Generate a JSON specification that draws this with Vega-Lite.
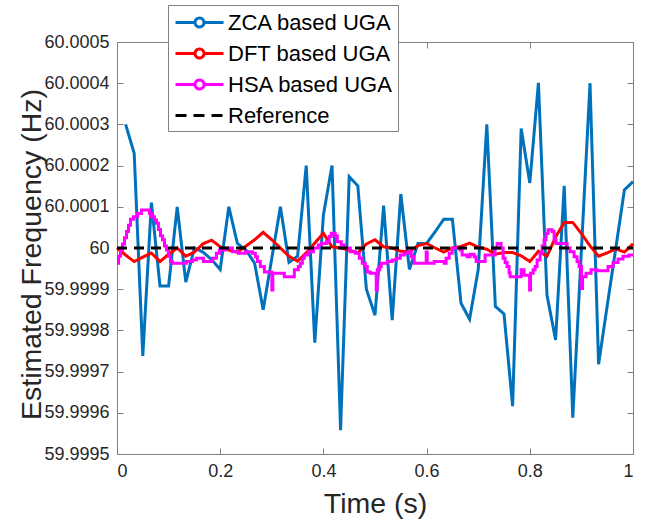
{
  "$schema": "https://vega.github.io/schema/vega-lite/v6.json",
  "width": 516,
  "height": 412,
  "autosize": {"type": "none"},
  "padding": {"left": 117, "top": 42, "right": 13, "bottom": 68},
  "background": "white",
  "config": {
    "view": {"stroke": null},
    "axis": {
      "labelFont": "Liberation Sans",
      "labelFontSize": 18,
      "labelColor": "#262626",
      "titleFont": "Liberation Sans",
      "titleFontSize": 28.5,
      "titleFontWeight": "normal",
      "titleColor": "#262626",
      "domainColor": "#808080",
      "tickColor": "#808080",
      "domainWidth": 1,
      "tickWidth": 1,
      "tickSize": -6,
      "grid": false
    }
  },
  "data": {
    "values": [
      {"series": "ZCA based UGA", "time": 0.0167, "freq": 60.0003},
      {"series": "ZCA based UGA", "time": 0.0333, "freq": 60.00023},
      {"series": "ZCA based UGA", "time": 0.05, "freq": 59.999738},
      {"series": "ZCA based UGA", "time": 0.0667, "freq": 60.00011},
      {"series": "ZCA based UGA", "time": 0.0833, "freq": 59.999908},
      {"series": "ZCA based UGA", "time": 0.1, "freq": 59.999908},
      {"series": "ZCA based UGA", "time": 0.1167, "freq": 60.0001},
      {"series": "ZCA based UGA", "time": 0.1333, "freq": 59.999917},
      {"series": "ZCA based UGA", "time": 0.15, "freq": 60.0},
      {"series": "ZCA based UGA", "time": 0.1667, "freq": 59.99999},
      {"series": "ZCA based UGA", "time": 0.1833, "freq": 59.999972},
      {"series": "ZCA based UGA", "time": 0.2, "freq": 59.999948},
      {"series": "ZCA based UGA", "time": 0.2167, "freq": 60.0001},
      {"series": "ZCA based UGA", "time": 0.2333, "freq": 60.000011},
      {"series": "ZCA based UGA", "time": 0.25, "freq": 59.999995},
      {"series": "ZCA based UGA", "time": 0.2667, "freq": 59.999963},
      {"series": "ZCA based UGA", "time": 0.2833, "freq": 59.99985},
      {"series": "ZCA based UGA", "time": 0.3, "freq": 59.999975},
      {"series": "ZCA based UGA", "time": 0.3167, "freq": 60.0001},
      {"series": "ZCA based UGA", "time": 0.3333, "freq": 59.999965},
      {"series": "ZCA based UGA", "time": 0.35, "freq": 59.99998},
      {"series": "ZCA based UGA", "time": 0.3667, "freq": 60.0002},
      {"series": "ZCA based UGA", "time": 0.3833, "freq": 59.99977},
      {"series": "ZCA based UGA", "time": 0.4, "freq": 60.00008},
      {"series": "ZCA based UGA", "time": 0.4167, "freq": 60.0002},
      {"series": "ZCA based UGA", "time": 0.4333, "freq": 59.999558},
      {"series": "ZCA based UGA", "time": 0.45, "freq": 60.000173},
      {"series": "ZCA based UGA", "time": 0.4667, "freq": 60.000151},
      {"series": "ZCA based UGA", "time": 0.4833, "freq": 59.9999},
      {"series": "ZCA based UGA", "time": 0.5, "freq": 59.999837},
      {"series": "ZCA based UGA", "time": 0.5167, "freq": 60.000103},
      {"series": "ZCA based UGA", "time": 0.5333, "freq": 59.999825},
      {"series": "ZCA based UGA", "time": 0.55, "freq": 60.000131},
      {"series": "ZCA based UGA", "time": 0.5667, "freq": 59.999948},
      {"series": "ZCA based UGA", "time": 0.5833, "freq": 60.000011},
      {"series": "ZCA based UGA", "time": 0.6, "freq": 60.000011},
      {"series": "ZCA based UGA", "time": 0.6167, "freq": 60.00004},
      {"series": "ZCA based UGA", "time": 0.6333, "freq": 60.00007},
      {"series": "ZCA based UGA", "time": 0.65, "freq": 60.00007},
      {"series": "ZCA based UGA", "time": 0.6667, "freq": 59.999866},
      {"series": "ZCA based UGA", "time": 0.6833, "freq": 59.999827},
      {"series": "ZCA based UGA", "time": 0.7, "freq": 59.999947},
      {"series": "ZCA based UGA", "time": 0.7167, "freq": 60.0003},
      {"series": "ZCA based UGA", "time": 0.7333, "freq": 59.999858},
      {"series": "ZCA based UGA", "time": 0.75, "freq": 59.99984},
      {"series": "ZCA based UGA", "time": 0.7667, "freq": 59.999616},
      {"series": "ZCA based UGA", "time": 0.7833, "freq": 60.00029},
      {"series": "ZCA based UGA", "time": 0.8, "freq": 60.000158},
      {"series": "ZCA based UGA", "time": 0.8167, "freq": 60.000401},
      {"series": "ZCA based UGA", "time": 0.8333, "freq": 59.999886},
      {"series": "ZCA based UGA", "time": 0.85, "freq": 59.999777},
      {"series": "ZCA based UGA", "time": 0.8667, "freq": 60.000151},
      {"series": "ZCA based UGA", "time": 0.8833, "freq": 59.999588},
      {"series": "ZCA based UGA", "time": 0.9, "freq": 59.999995},
      {"series": "ZCA based UGA", "time": 0.9167, "freq": 60.0004},
      {"series": "ZCA based UGA", "time": 0.9333, "freq": 59.999718},
      {"series": "ZCA based UGA", "time": 0.95, "freq": 59.99986},
      {"series": "ZCA based UGA", "time": 0.9667, "freq": 60.0},
      {"series": "ZCA based UGA", "time": 0.9833, "freq": 60.000141},
      {"series": "ZCA based UGA", "time": 1.0, "freq": 60.000161},

      {"series": "DFT based UGA", "time": 0.0, "freq": 60.0},
      {"series": "DFT based UGA", "time": 0.0167, "freq": 59.999983},
      {"series": "DFT based UGA", "time": 0.0333, "freq": 59.999967},
      {"series": "DFT based UGA", "time": 0.05, "freq": 59.999978},
      {"series": "DFT based UGA", "time": 0.0667, "freq": 59.999988},
      {"series": "DFT based UGA", "time": 0.0833, "freq": 59.999967},
      {"series": "DFT based UGA", "time": 0.1, "freq": 59.999985},
      {"series": "DFT based UGA", "time": 0.1167, "freq": 60.0},
      {"series": "DFT based UGA", "time": 0.1333, "freq": 59.99998},
      {"series": "DFT based UGA", "time": 0.15, "freq": 59.99999},
      {"series": "DFT based UGA", "time": 0.1667, "freq": 60.00001},
      {"series": "DFT based UGA", "time": 0.1833, "freq": 60.000019},
      {"series": "DFT based UGA", "time": 0.2, "freq": 60.000003},
      {"series": "DFT based UGA", "time": 0.2167, "freq": 59.999995},
      {"series": "DFT based UGA", "time": 0.2333, "freq": 59.99999},
      {"series": "DFT based UGA", "time": 0.25, "freq": 60.000005},
      {"series": "DFT based UGA", "time": 0.2667, "freq": 60.00002},
      {"series": "DFT based UGA", "time": 0.2833, "freq": 60.000038},
      {"series": "DFT based UGA", "time": 0.3, "freq": 60.00002},
      {"series": "DFT based UGA", "time": 0.3167, "freq": 60.0},
      {"series": "DFT based UGA", "time": 0.3333, "freq": 59.99998},
      {"series": "DFT based UGA", "time": 0.35, "freq": 59.999968},
      {"series": "DFT based UGA", "time": 0.3667, "freq": 59.999988},
      {"series": "DFT based UGA", "time": 0.3833, "freq": 60.000012},
      {"series": "DFT based UGA", "time": 0.4, "freq": 60.000036},
      {"series": "DFT based UGA", "time": 0.4167, "freq": 60.000003},
      {"series": "DFT based UGA", "time": 0.4333, "freq": 60.0},
      {"series": "DFT based UGA", "time": 0.45, "freq": 59.999995},
      {"series": "DFT based UGA", "time": 0.4667, "freq": 59.999988},
      {"series": "DFT based UGA", "time": 0.4833, "freq": 60.00001},
      {"series": "DFT based UGA", "time": 0.5, "freq": 60.00002},
      {"series": "DFT based UGA", "time": 0.5167, "freq": 60.000003},
      {"series": "DFT based UGA", "time": 0.5333, "freq": 60.0},
      {"series": "DFT based UGA", "time": 0.55, "freq": 59.999992},
      {"series": "DFT based UGA", "time": 0.5667, "freq": 59.999991},
      {"series": "DFT based UGA", "time": 0.5833, "freq": 60.000006},
      {"series": "DFT based UGA", "time": 0.6, "freq": 60.000011},
      {"series": "DFT based UGA", "time": 0.6167, "freq": 60.0},
      {"series": "DFT based UGA", "time": 0.6333, "freq": 59.99999},
      {"series": "DFT based UGA", "time": 0.65, "freq": 60.0},
      {"series": "DFT based UGA", "time": 0.6667, "freq": 60.000004},
      {"series": "DFT based UGA", "time": 0.6833, "freq": 60.000012},
      {"series": "DFT based UGA", "time": 0.7, "freq": 60.000002},
      {"series": "DFT based UGA", "time": 0.7167, "freq": 59.999997},
      {"series": "DFT based UGA", "time": 0.7333, "freq": 59.999985},
      {"series": "DFT based UGA", "time": 0.75, "freq": 59.999989},
      {"series": "DFT based UGA", "time": 0.7667, "freq": 59.999989},
      {"series": "DFT based UGA", "time": 0.7833, "freq": 59.999981},
      {"series": "DFT based UGA", "time": 0.8, "freq": 59.999967},
      {"series": "DFT based UGA", "time": 0.8167, "freq": 59.999992},
      {"series": "DFT based UGA", "time": 0.8333, "freq": 59.99998},
      {"series": "DFT based UGA", "time": 0.85, "freq": 60.000027},
      {"series": "DFT based UGA", "time": 0.8667, "freq": 60.000062},
      {"series": "DFT based UGA", "time": 0.8833, "freq": 60.000062},
      {"series": "DFT based UGA", "time": 0.9, "freq": 60.000035},
      {"series": "DFT based UGA", "time": 0.9167, "freq": 60.000005},
      {"series": "DFT based UGA", "time": 0.9333, "freq": 59.99998},
      {"series": "DFT based UGA", "time": 0.95, "freq": 59.999988},
      {"series": "DFT based UGA", "time": 0.9667, "freq": 59.999998},
      {"series": "DFT based UGA", "time": 0.9833, "freq": 59.99999},
      {"series": "DFT based UGA", "time": 1.0, "freq": 60.00001},

      {"series": "HSA based UGA", "time": 0.0, "freq": 59.999963},
      {"series": "HSA based UGA", "time": 0.0029, "freq": 59.99998},
      {"series": "HSA based UGA", "time": 0.0068, "freq": 59.999995},
      {"series": "HSA based UGA", "time": 0.0106, "freq": 60.00001},
      {"series": "HSA based UGA", "time": 0.0145, "freq": 60.000025},
      {"series": "HSA based UGA", "time": 0.0184, "freq": 60.00004},
      {"series": "HSA based UGA", "time": 0.0223, "freq": 60.000055},
      {"series": "HSA based UGA", "time": 0.0261, "freq": 60.00007},
      {"series": "HSA based UGA", "time": 0.0319, "freq": 60.000076},
      {"series": "HSA based UGA", "time": 0.0397, "freq": 60.000084},
      {"series": "HSA based UGA", "time": 0.0474, "freq": 60.000092},
      {"series": "HSA based UGA", "time": 0.0629, "freq": 60.000084},
      {"series": "HSA based UGA", "time": 0.0668, "freq": 60.000076},
      {"series": "HSA based UGA", "time": 0.0726, "freq": 60.000068},
      {"series": "HSA based UGA", "time": 0.0765, "freq": 60.00006},
      {"series": "HSA based UGA", "time": 0.0803, "freq": 60.000045},
      {"series": "HSA based UGA", "time": 0.0842, "freq": 60.00003},
      {"series": "HSA based UGA", "time": 0.0881, "freq": 60.00002},
      {"series": "HSA based UGA", "time": 0.092, "freq": 60.000005},
      {"series": "HSA based UGA", "time": 0.0958, "freq": 59.999995},
      {"series": "HSA based UGA", "time": 0.0997, "freq": 59.99998},
      {"series": "HSA based UGA", "time": 0.1036, "freq": 59.999967},
      {"series": "HSA based UGA", "time": 0.1074, "freq": 59.999963},
      {"series": "HSA based UGA", "time": 0.1346, "freq": 59.999967},
      {"series": "HSA based UGA", "time": 0.1462, "freq": 59.999971},
      {"series": "HSA based UGA", "time": 0.1539, "freq": 59.999975},
      {"series": "HSA based UGA", "time": 0.1675, "freq": 59.999967},
      {"series": "HSA based UGA", "time": 0.1849, "freq": 59.999975},
      {"series": "HSA based UGA", "time": 0.1926, "freq": 59.999987},
      {"series": "HSA based UGA", "time": 0.1985, "freq": 59.999995},
      {"series": "HSA based UGA", "time": 0.212, "freq": 60.0},
      {"series": "HSA based UGA", "time": 0.2236, "freq": 59.999991},
      {"series": "HSA based UGA", "time": 0.2352, "freq": 59.999987},
      {"series": "HSA based UGA", "time": 0.2488, "freq": 59.999991},
      {"series": "HSA based UGA", "time": 0.2623, "freq": 59.999987},
      {"series": "HSA based UGA", "time": 0.2681, "freq": 59.999979},
      {"series": "HSA based UGA", "time": 0.272, "freq": 59.999967},
      {"series": "HSA based UGA", "time": 0.2778, "freq": 59.999955},
      {"series": "HSA based UGA", "time": 0.2856, "freq": 59.999942},
      {"series": "HSA based UGA", "time": 0.3001, "freq": 59.999898},
      {"series": "HSA based UGA", "time": 0.302, "freq": 59.999939},
      {"series": "HSA based UGA", "time": 0.3243, "freq": 59.99993},
      {"series": "HSA based UGA", "time": 0.3437, "freq": 59.999947},
      {"series": "HSA based UGA", "time": 0.3514, "freq": 59.999955},
      {"series": "HSA based UGA", "time": 0.3553, "freq": 59.999963},
      {"series": "HSA based UGA", "time": 0.3592, "freq": 59.999975},
      {"series": "HSA based UGA", "time": 0.363, "freq": 59.999983},
      {"series": "HSA based UGA", "time": 0.3708, "freq": 59.999991},
      {"series": "HSA based UGA", "time": 0.3805, "freq": 60.0},
      {"series": "HSA based UGA", "time": 0.3901, "freq": 60.000007},
      {"series": "HSA based UGA", "time": 0.3959, "freq": 60.000011},
      {"series": "HSA based UGA", "time": 0.4056, "freq": 60.000015},
      {"series": "HSA based UGA", "time": 0.4114, "freq": 60.000028},
      {"series": "HSA based UGA", "time": 0.4153, "freq": 60.000036},
      {"series": "HSA based UGA", "time": 0.423, "freq": 60.00003},
      {"series": "HSA based UGA", "time": 0.4269, "freq": 60.000015},
      {"series": "HSA based UGA", "time": 0.4347, "freq": 60.000007},
      {"series": "HSA based UGA", "time": 0.4405, "freq": 60.0},
      {"series": "HSA based UGA", "time": 0.4521, "freq": 59.999991},
      {"series": "HSA based UGA", "time": 0.4618, "freq": 59.999987},
      {"series": "HSA based UGA", "time": 0.4695, "freq": 59.999975},
      {"series": "HSA based UGA", "time": 0.4753, "freq": 59.999963},
      {"series": "HSA based UGA", "time": 0.4811, "freq": 59.999955},
      {"series": "HSA based UGA", "time": 0.485, "freq": 59.999942},
      {"series": "HSA based UGA", "time": 0.4908, "freq": 59.999939},
      {"series": "HSA based UGA", "time": 0.5024, "freq": 59.999898},
      {"series": "HSA based UGA", "time": 0.5044, "freq": 59.999947},
      {"series": "HSA based UGA", "time": 0.5092, "freq": 59.999955},
      {"series": "HSA based UGA", "time": 0.5121, "freq": 59.999963},
      {"series": "HSA based UGA", "time": 0.5237, "freq": 59.999967},
      {"series": "HSA based UGA", "time": 0.5334, "freq": 59.999971},
      {"series": "HSA based UGA", "time": 0.5411, "freq": 59.999975},
      {"series": "HSA based UGA", "time": 0.5489, "freq": 59.999983},
      {"series": "HSA based UGA", "time": 0.5566, "freq": 59.999987},
      {"series": "HSA based UGA", "time": 0.5644, "freq": 59.999991},
      {"series": "HSA based UGA", "time": 0.5702, "freq": 59.999979},
      {"series": "HSA based UGA", "time": 0.576, "freq": 59.999963},
      {"series": "HSA based UGA", "time": 0.5992, "freq": 59.99999},
      {"series": "HSA based UGA", "time": 0.6012, "freq": 59.999963},
      {"series": "HSA based UGA", "time": 0.6147, "freq": 59.999967},
      {"series": "HSA based UGA", "time": 0.6341, "freq": 59.999963},
      {"series": "HSA based UGA", "time": 0.6379, "freq": 59.999975},
      {"series": "HSA based UGA", "time": 0.6438, "freq": 59.999987},
      {"series": "HSA based UGA", "time": 0.6496, "freq": 60.0},
      {"series": "HSA based UGA", "time": 0.6651, "freq": 59.999995},
      {"series": "HSA based UGA", "time": 0.6689, "freq": 59.999983},
      {"series": "HSA based UGA", "time": 0.6786, "freq": 59.999979},
      {"series": "HSA based UGA", "time": 0.6844, "freq": 59.999985},
      {"series": "HSA based UGA", "time": 0.6921, "freq": 59.999979},
      {"series": "HSA based UGA", "time": 0.696, "freq": 59.999967},
      {"series": "HSA based UGA", "time": 0.7134, "freq": 59.999983},
      {"series": "HSA based UGA", "time": 0.7328, "freq": 60.0},
      {"series": "HSA based UGA", "time": 0.7367, "freq": 60.000011},
      {"series": "HSA based UGA", "time": 0.7444, "freq": 60.0},
      {"series": "HSA based UGA", "time": 0.7483, "freq": 59.999975},
      {"series": "HSA based UGA", "time": 0.7522, "freq": 59.999965},
      {"series": "HSA based UGA", "time": 0.756, "freq": 59.999955},
      {"series": "HSA based UGA", "time": 0.7599, "freq": 59.99994},
      {"series": "HSA based UGA", "time": 0.7619, "freq": 59.99993},
      {"series": "HSA based UGA", "time": 0.7831, "freq": 59.999947},
      {"series": "HSA based UGA", "time": 0.7889, "freq": 59.999934},
      {"series": "HSA based UGA", "time": 0.7996, "freq": 59.999898},
      {"series": "HSA based UGA", "time": 0.8015, "freq": 59.999939},
      {"series": "HSA based UGA", "time": 0.8064, "freq": 59.999947},
      {"series": "HSA based UGA", "time": 0.8103, "freq": 59.999955},
      {"series": "HSA based UGA", "time": 0.8141, "freq": 59.999971},
      {"series": "HSA based UGA", "time": 0.8199, "freq": 59.999987},
      {"series": "HSA based UGA", "time": 0.8238, "freq": 60.000005},
      {"series": "HSA based UGA", "time": 0.8277, "freq": 60.00002},
      {"series": "HSA based UGA", "time": 0.8316, "freq": 60.000035},
      {"series": "HSA based UGA", "time": 0.8354, "freq": 60.000044},
      {"series": "HSA based UGA", "time": 0.8432, "freq": 60.00004},
      {"series": "HSA based UGA", "time": 0.8471, "freq": 60.00002},
      {"series": "HSA based UGA", "time": 0.8509, "freq": 60.000011},
      {"series": "HSA based UGA", "time": 0.8722, "freq": 60.0},
      {"series": "HSA based UGA", "time": 0.878, "freq": 59.999991},
      {"series": "HSA based UGA", "time": 0.8858, "freq": 59.999979},
      {"series": "HSA based UGA", "time": 0.8916, "freq": 59.999967},
      {"series": "HSA based UGA", "time": 0.8955, "freq": 59.999955},
      {"series": "HSA based UGA", "time": 0.9003, "freq": 59.999902},
      {"series": "HSA based UGA", "time": 0.9022, "freq": 59.99993},
      {"series": "HSA based UGA", "time": 0.909, "freq": 59.999939},
      {"series": "HSA based UGA", "time": 0.9187, "freq": 59.999947},
      {"series": "HSA based UGA", "time": 0.9303, "freq": 59.999945},
      {"series": "HSA based UGA", "time": 0.9516, "freq": 59.999955},
      {"series": "HSA based UGA", "time": 0.9613, "freq": 59.999965},
      {"series": "HSA based UGA", "time": 0.971, "freq": 59.999973},
      {"series": "HSA based UGA", "time": 0.9806, "freq": 59.99998},
      {"series": "HSA based UGA", "time": 0.9923, "freq": 59.999983},
      {"series": "HSA based UGA", "time": 1.0, "freq": 59.999983},

      {"series": "Reference", "time": 0.0, "freq": 60.0},
      {"series": "Reference", "time": 1.0, "freq": 60.0}
    ]
  },
  "encoding": {
    "x": {"field": "time", "type": "quantitative", "scale": {"domain": [0, 1], "nice": false, "zero": false}},
    "y": {"field": "freq", "type": "quantitative", "scale": {"domain": [59.9995, 60.0005], "nice": false, "zero": false}},
    "color": {
      "field": "series",
      "type": "nominal",
      "scale": {
        "domain": ["ZCA based UGA", "DFT based UGA", "HSA based UGA", "Reference"],
        "range": ["#0072BD", "#FF0000", "#FF00FF", "#000000"]
      },
      "legend": {
        "title": null,
        "orient": "none",
        "legendX": 51,
        "legendY": -37,
        "fillColor": "white",
        "strokeColor": "#808080",
        "padding": 4,
        "rowPadding": 6,
        "labelFont": "Liberation Sans",
        "labelFontSize": 22,
        "labelColor": "#000000",
        "labelLimit": 400,
        "labelOffset": 15,
        "labelExpr": "datum.label + '\u00a0\u00a0\u00a0\u00a0\u00a0'",
        "symbolType": "M-2,0L-0.375,0M0.375,0L2,0M-0.375,0A0.375,0.375 0 1,1 0.375,0A0.375,0.375 0 1,1 -0.375,0",
        "symbolSize": 576,
        "symbolStrokeWidth": 3,
        "symbolOffset": 14,
        "encode": {
          "symbols": {
            "update": {
              "shape": {"signal": "datum.value === 'Reference' ? 'M-2,0L2,0' : 'M-2,0L-0.375,0M0.375,0L2,0M-0.375,0A0.375,0.375 0 1,1 0.375,0A0.375,0.375 0 1,1 -0.375,0'"},
              "stroke": {"signal": "datum.value === 'ZCA based UGA' ? '#0000FF' : datum.value === 'DFT based UGA' ? '#FF0000' : datum.value === 'HSA based UGA' ? '#FF00FF' : '#000000'"},
              "strokeDash": {"signal": "datum.value === 'Reference' ? [11, 7] : [1, 0]"},
              "fill": {"value": "transparent"}
            }
          }
        }
      }
    }
  },
  "layer": [
    {
      "transform": [{"filter": "datum.series === 'ZCA based UGA'"}],
      "mark": {"type": "line", "strokeWidth": 3},
      "encoding": {
        "x": {
          "field": "time", "type": "quantitative",
          "axis": {
            "title": "Time (s)",
            "values": [0, 0.2, 0.4, 0.6, 0.8, 1],
            "labelExpr": "format(datum.value, '~g')",
            "labelPadding": 14,
            "titlePadding": 9
          }
        },
        "y": {
          "field": "freq", "type": "quantitative",
          "axis": {
            "title": "Estimated Frequency (Hz)",
            "values": [59.9995, 59.9996, 59.9997, 59.9998, 59.9999, 60, 60.0001, 60.0002, 60.0003, 60.0004, 60.0005],
            "labelExpr": "abs(datum.value - 60) < 1e-8 ? '60' : format(datum.value, '.4f')",
            "labelPadding": 14,
            "titlePadding": -3,
            "titleY": 212
          }
        }
      }
    },
    {
      "transform": [{"filter": "datum.series === 'DFT based UGA'"}],
      "mark": {"type": "line", "strokeWidth": 3},
      "encoding": {
        "x": {"field": "time", "type": "quantitative", "axis": null},
        "y": {"field": "freq", "type": "quantitative", "axis": null}
      }
    },
    {
      "transform": [{"filter": "datum.series === 'HSA based UGA'"}],
      "mark": {"type": "line", "strokeWidth": 3, "interpolate": "step-after"},
      "encoding": {
        "x": {"field": "time", "type": "quantitative", "axis": null},
        "y": {"field": "freq", "type": "quantitative", "axis": null}
      }
    },
    {
      "transform": [{"filter": "datum.series === 'Reference'"}],
      "mark": {"type": "line", "strokeWidth": 3, "strokeDash": [10, 7]},
      "encoding": {
        "x": {
          "field": "time", "type": "quantitative",
          "axis": {"orient": "top", "values": [0, 0.2, 0.4, 0.6, 0.8, 1], "labels": false, "title": null}
        },
        "y": {
          "field": "freq", "type": "quantitative",
          "axis": {"orient": "right", "values": [59.9995, 59.9996, 59.9997, 59.9998, 59.9999, 60, 60.0001, 60.0002, 60.0003, 60.0004, 60.0005], "labels": false, "title": null}
        }
      }
    }
  ],
  "resolve": {"axis": {"x": "independent", "y": "independent"}}
}
